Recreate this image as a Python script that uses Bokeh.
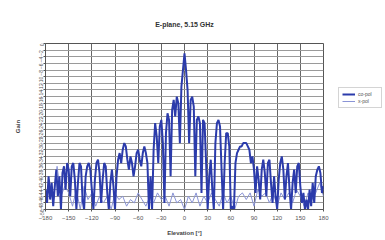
from bokeh.plotting import figure
from bokeh.layouts import row
from bokeh.models import FixedTicker, Legend, LegendItem, Range1d, Title
from bokeh.embed import file_html
from bokeh.resources import INLINE
import math

# ---- data ----
elev_co = [-180,-178,-176,-174,-172,-170,-168,-166,-164,-162,-160,-158,-156,-154,-152,-150,
           -148,-146,-144,-142,-140,-138,-136,-134,-132,-130,-128,-126,-124,-122,-120,-118,
           -116,-114,-112,-110,-108,-106,-104,-102,-100,-98,-96,-94,-92,-90,-88,-86,-84,-82,
           -80,-78,-76,-74,-72,-70,-68,-66,-64,-62,-60,-58,-56,-54,-52,-50,-48,-46,-44,-42,
           -40,-38,-36,-34,-32,-30,-28,-26,-24,-22,-20,-18,-16,-14,-12,-10,-8,-6,-4,-2,
           0,2,4,6,8,10,12,14,16,18,20,22,24,26,28,30,32,34,36,38,40,42,44,46,48,50,
           52,54,56,58,60,62,64,66,68,70,72,74,76,78,80,82,84,86,88,90,92,94,96,98,100,
           102,104,106,108,110,112,114,116,118,120,122,124,126,128,130,132,134,136,138,140,
           142,144,146,148,150,152,154,156,158,160,162,164,166,168,170,172,174,176,178,180]
gain_co = [-44,-48,-40,-47,-42,-49,-43,-38,-46,-40,-50,-39,-37,-44,-36,-38,
           -46,-37,-36,-41,-50,-42,-36,-37,-47,-50,-40,-37,-36,-38,-44,-50,
           -41,-36,-35,-39,-48,-41,-36,-37,-45,-50,-42,-38,-43,-50,-40,-35,-33,-36,
           -32,-30,-31,-35,-38,-34,-36,-40,-37,-33,-32,-35,-37,-33,-31,-33,-36,-50,-40,-50,
           -32,-24,-28,-36,-25,-23,-30,-48,-27,-21,-23,-40,-20,-17,-22,-16,-18,-30,-13,-8,
           -3,-8,-14,-30,-17,-16,-19,-40,-23,-22,-24,-45,-23,-24,-36,-50,-40,-35,-44,-50,
           -30,-24,-23,-25,-38,-50,-36,-27,-27,-31,-50,-49,-50,-36,-33,-32,-31,-31,-30,-30,
           -30,-31,-32,-36,-34,-38,-45,-37,-41,-47,-38,
           -35,-39,-46,-36,-35,-42,-48,-40,-46,-50,-41,-36,-34,-38,-47,-40,-36,-44,-50,-42,
           -38,-45,-37,-36,-43,-48,-45,-50,-47,-50,-44,-49,-42,-48,-40,-38,-37,-39,-45,-43]

elev_x = [-180,-175,-170,-165,-160,-155,-150,-145,-140,-135,-130,-125,-120,-115,-110,-105,
          -100,-95,-90,-85,-80,-75,-70,-65,-60,-55,-50,-45,-40,-35,-30,-25,-20,-15,-10,-5,
          0,5,10,15,20,25,30,35,40,45,50,55,60,65,70,75,80,85,90,95,100,105,110,115,
          120,125,130,135,140,145,150,155,160,165,170,175,180]
gain_x = [-47,-41,-48,-37,-46,-43,-45,-49,-44,-50,-43,-47,-45,-49,-46,-48,
          -46,-50,-45,-47,-46,-49,-47,-48,-45,-47,-49,-46,-48,-45,-47,-46,-49,-45,-48,-47,
          -50,-46,-48,-45,-49,-46,-48,-45,-47,-49,-45,-48,-46,-50,-46,-45,-47,-45,-49,-44,
          -46,-45,-48,-45,-49,-45,-47,-45,-48,-44,-46,-49,-45,-47,-45,-42,-46]

x_ticks = [-180, -150, -120, -90, -60, -30, 0, 30, 60, 90, 120, 150, 180]
y_ticks = list(range(-50, 1, 2))

CO_COLOR = "#2b3bab"
X_COLOR = "#8a94d6"
FONT = "Liberation Sans"

p = figure(width=329, height=238, output_backend="svg", toolbar_location=None,
           x_range=Range1d(-180, 180), y_range=Range1d(-50, 0),
           min_border_left=45, min_border_top=43, min_border_bottom=29,
           min_border_right=6)

p.line(elev_x, gain_x, line_color=X_COLOR, line_width=1)
p.line(elev_co, gain_co, line_color=CO_COLOR, line_width=2)

p.title.text = "E-plane, 5.15 GHz"
p.title.text_font = FONT
p.title.text_font_size = "7px"
p.title.text_font_style = "bold"
p.title.text_color = "#333333"
p.title.align = "center"
p.title.offset = 9

# blank spacer between the title and the frame, lifting the title upward
p.add_layout(Title(text=" ", text_font_size="8px", standoff=0), "above")

p.xaxis.ticker = FixedTicker(ticks=x_ticks)
p.yaxis.ticker = FixedTicker(ticks=y_ticks)
p.xaxis.axis_label = "Elevation [°]"
p.yaxis.axis_label = "Gain"
for ax in (p.xaxis[0], p.yaxis[0]):
    ax.axis_label_text_font = FONT
    ax.axis_label_text_font_size = "6px"
    ax.axis_label_text_font_style = "bold"
    ax.axis_label_text_color = "#444444"
    ax.major_label_text_font = FONT
    ax.major_label_text_color = "#555555"
    ax.axis_line_color = "#555555"
    ax.major_tick_line_color = "#555555"
    ax.major_tick_in = 0
    ax.major_tick_out = 2
    ax.minor_tick_line_color = None
p.xaxis.major_label_text_font_size = "6px"
p.xaxis.major_label_standoff = 4
p.xaxis.axis_label_standoff = 7
p.yaxis.major_label_text_font_size = "5px"
p.yaxis.major_label_orientation = math.pi / 2
p.yaxis.major_label_standoff = 2
p.yaxis.axis_label_standoff = 14

p.xgrid.grid_line_color = "#666666"
p.xgrid.grid_line_width = 1
p.ygrid.grid_line_color = "#9a9a9a"
p.ygrid.grid_line_width = 1
p.outline_line_color = "#555555"
p.background_fill_color = "white"
p.border_fill_color = "white"

# legend panel: a small companion figure whose lines lie outside its view
lf = figure(width=56, height=238, output_backend="svg", toolbar_location=None,
            x_range=Range1d(0, 1), y_range=Range1d(100, 101),
            x_axis_location=None, y_axis_location=None,
            min_border_left=0, min_border_right=0, min_border_top=0, min_border_bottom=0)
lf.grid.visible = False
lf.outline_line_color = None
lr_co = lf.line(elev_co, gain_co, line_color=CO_COLOR, line_width=2)
lr_x = lf.line(elev_x, gain_x, line_color=X_COLOR, line_width=1)

legend = Legend(items=[LegendItem(label="co-pol", renderers=[lr_co]),
                       LegendItem(label="x-pol", renderers=[lr_x])],
                location=(9, 101))
legend.label_text_font = FONT
legend.label_text_font_size = "5px"
legend.label_text_color = "#555555"
legend.glyph_width = 13
legend.glyph_height = 6
legend.label_height = 6
legend.spacing = 1
legend.padding = 3
legend.margin = 0
legend.label_standoff = 3
legend.border_line_color = "#aaaaaa"
legend.background_fill_color = "white"
lf.add_layout(legend, "center")

layout = row(p, lf, spacing=0)
open("out.html", "w").write(file_html(layout, INLINE))
